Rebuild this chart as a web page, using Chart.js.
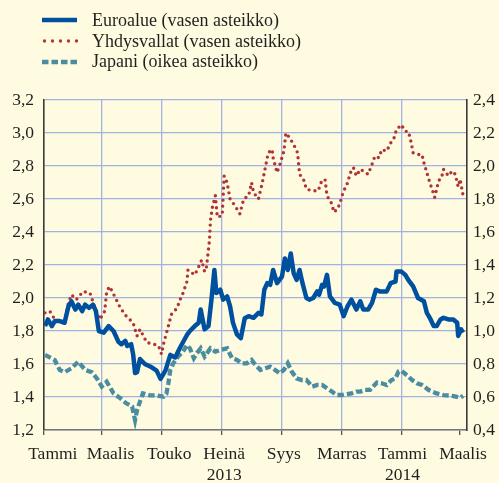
<!DOCTYPE html>
<html lang="fi">
<head>
<meta charset="utf-8">
<title>Valtion 10 vuoden lainojen korot</title>
<script src="https://cdn.jsdelivr.net/npm/chart.js@4.4.1/dist/chart.umd.min.js"></script>
<style>
  html, body { margin: 0; padding: 0; background: #fefbe0; }
  #wrap { position: relative; width: 499px; height: 483px; }
  #legend {
    position: absolute; left: 42px; top: 10px;
    font: 18px "Liberation Serif", "Times New Roman", serif;
    color: #231f20; line-height: 20.7px;
  }
  .row { display: flex; align-items: center; white-space: nowrap; }
  .row svg { width: 36px; height: 8px; margin-right: 14px; }
</style>
</head>
<body>
<div id="wrap">
  <canvas id="chart" width="499" height="483"></canvas>
  <div id="legend"></div>
</div>
<script>
// x values are days counted from 1 Jan 2013
const monthStarts = [0, 59, 120, 181, 243, 304, 365, 424];
const labelDays = [9, 68, 128, 184, 245, 304, 366, 428];
const monthLabels = ["Tammi", "Maalis", "Touko", ["Heinä", "2013"], "Syys", "Marras", ["Tammi", "2014"], "Maalis"];
const leftTicks = [1.2, 1.4, 1.6, 1.8, 2.0, 2.2, 2.4, 2.6, 2.8, 3.0, 3.2];
const rightTicks = [0.4, 0.6, 0.8, 1.0, 1.2, 1.4, 1.6, 1.8, 2.0, 2.2, 2.4];

const seriesNames = ["Euroalue (vasen asteikko)", "Yhdysvallat (vasen asteikko)", "Japani (oikea asteikko)"];

const euroDay = [1,4,8,11,16,21,25,28,32,35,39,42,46,50,53,56,61,66,71,76,79,83,85,89,91,93,95,98,103,110,
  115,119,124,129,134,139,146,149,154,158,160,164,168,171,174,176,180,183,187,190,193,197,201,205,209,214,219,222,225,228,
  231,234,238,243,246,249,252,255,258,261,264,268,271,275,279,281,284,286,289,292,297,302,306,310,314,319,323,326,331,335,
  339,343,350,354,359,360,365,369,372,377,382,388,391,394,398,401,405,408,413,418,422,423,426,428];
const euroRate = [1.83,1.87,1.83,1.86,1.86,1.85,1.95,1.98,1.93,1.96,1.92,1.96,1.94,1.96,1.92,1.80,1.79,1.83,1.80,1.735,
  1.72,1.74,1.71,1.72,1.66,1.545,1.55,1.63,1.60,1.58,1.56,1.51,1.56,1.655,1.64,1.70,1.776,1.80,1.83,1.85,
  1.93,1.81,1.83,1.99,2.17,2.03,2.05,1.99,2.01,1.95,1.85,1.78,1.756,1.877,1.89,1.88,1.91,1.90,2.05,2.09,
  2.08,2.17,2.09,2.13,2.24,2.17,2.27,2.15,2.11,2.17,2.09,2.00,1.99,2.00,2.04,2.02,2.08,2.07,2.14,2.01,
  1.97,1.96,1.89,1.95,1.99,1.93,1.98,1.93,1.93,1.97,2.05,2.04,2.04,2.09,2.10,2.16,2.16,2.14,2.11,2.07,
  2.00,1.98,1.91,1.88,1.83,1.83,1.87,1.88,1.87,1.87,1.85,1.77,1.81,1.79];

const usDay = [1,6,11,16,21,25,28,33,40,47,52,57,62,64,67,73,78,84,91,95,98,105,112,117,120,122,127,130,136,139,
  142,146,147,154,158,161,164,166,169,170,172,175,177,182,184,187,190,195,200,204,209,212,214,219,223,226,229,233,234,238,
  241,245,247,251,255,259,261,265,268,274,280,283,287,289,294,296,300,303,306,309,313,316,319,323,326,331,335,338,342,345,
  350,354,357,360,365,369,372,374,377,381,386,388,391,394,398,399,403,406,408,413,417,420,423,425,428];
const usRate = [1.91,1.92,1.87,1.86,1.86,1.97,2.02,1.99,2.04,2.03,1.94,1.87,1.92,2.04,2.07,2.00,1.94,1.89,1.85,1.77,
  1.81,1.73,1.72,1.71,1.66,1.72,1.83,1.90,1.94,1.99,2.03,2.10,2.17,2.14,2.19,2.23,2.16,2.19,2.35,2.47,
  2.55,2.62,2.49,2.50,2.74,2.70,2.60,2.56,2.51,2.60,2.62,2.70,2.64,2.60,2.70,2.79,2.88,2.90,2.85,2.76,
  2.81,2.89,3.00,2.97,2.93,2.88,2.75,2.72,2.66,2.65,2.65,2.70,2.72,2.62,2.57,2.52,2.54,2.59,2.65,2.68,
  2.76,2.79,2.74,2.78,2.77,2.75,2.81,2.86,2.85,2.90,2.89,2.94,2.96,3.02,3.05,3.01,3.01,2.97,2.88,2.87,
  2.87,2.82,2.76,2.70,2.63,2.61,2.71,2.73,2.78,2.74,2.77,2.75,2.675,2.72,2.62];

const jpDay = [1,11,16,21,28,35,42,49,54,59,64,71,78,84,90,93,95,98,101,108,115,122,125,127,129,132,137,142,146,149,
  153,156,160,164,170,175,180,187,192,197,202,207,212,216,221,226,231,236,241,245,249,253,258,263,268,274,279,284,289,294,
  299,304,309,314,319,323,328,333,336,340,345,350,355,359,362,365,371,376,381,386,393,401,408,417,425,428];
const jpRate = [0.855,0.824,0.764,0.75,0.774,0.814,0.764,0.75,0.713,0.663,0.693,0.622,0.592,0.562,0.542,0.46,0.52,0.572,0.622,0.61,
  0.61,0.602,0.62,0.683,0.764,0.804,0.845,0.875,0.915,0.895,0.835,0.865,0.895,0.845,0.895,0.875,0.885,0.895,0.835,0.825,
  0.804,0.804,0.825,0.794,0.764,0.774,0.784,0.764,0.743,0.764,0.804,0.754,0.713,0.703,0.703,0.663,0.673,0.673,0.653,0.633,
  0.612,0.612,0.617,0.622,0.633,0.633,0.643,0.643,0.663,0.688,0.683,0.673,0.703,0.713,0.754,0.76,0.73,0.703,0.683,0.673,
  0.642,0.622,0.612,0.607,0.597,0.607];

const BLUE = "#0050a0";
const RED = "#b03434";
const TEAL = "#4b8da0";
const GRID = "#a2b2e2";
const AXIS = "#3a3a3a";
const TEXT = "#231f20";
const tickFont = { family: "'Liberation Serif', 'Times New Roman', serif", size: 17.5, lineHeight: 1.2 };

const toPoints = (days, vals) => days.map((d, i) => ({ x: d, y: vals[i] }));
const fmt = (v) => Number(v).toFixed(1).replace(".", ",");

// legend rows (html, left-aligned column like the original)
const swatches = [
  `<svg viewBox="0 0 36 8"><line x1="0" y1="4" x2="35" y2="4" stroke="${BLUE}" stroke-width="4.5"/></svg>`,
  `<svg viewBox="0 0 36 8"><line x1="2.5" y1="4" x2="35" y2="4" stroke="${RED}" stroke-width="3.3" stroke-linecap="round" stroke-dasharray="0 8"/></svg>`,
  `<svg viewBox="0 0 36 8"><line x1="0" y1="4" x2="35" y2="4" stroke="${TEAL}" stroke-width="4.3" stroke-dasharray="6.5 3"/></svg>`
];
document.getElementById("legend").innerHTML = seriesNames
  .map((name, i) => `<div class="row">${swatches[i]}<span>${name}</span></div>`)
  .join("");

new Chart(document.getElementById("chart"), {
  type: "line",
  data: {
    datasets: [
      {
        label: seriesNames[0],
        data: toPoints(euroDay, euroRate),
        borderColor: BLUE,
        borderWidth: 4.5,
        borderJoinStyle: "round",
        pointRadius: 0,
        yAxisID: "y"
      },
      {
        label: seriesNames[1],
        data: toPoints(usDay, usRate),
        borderColor: RED,
        borderWidth: 3.4,
        borderDash: [0, 6],
        borderCapStyle: "round",
        pointRadius: 0,
        yAxisID: "y"
      },
      {
        label: seriesNames[2],
        data: toPoints(jpDay, jpRate),
        borderColor: TEAL,
        borderWidth: 4.3,
        borderDash: [6.5, 3],
        pointRadius: 0,
        yAxisID: "y1"
      }
    ]
  },
  options: {
    responsive: false,
    animation: false,
    layout: { padding: { top: 100, left: 0, right: 0, bottom: 0 } },
    plugins: {
      legend: { display: false },
      tooltip: { enabled: false }
    },
    scales: {
      x: {
        type: "linear",
        position: "bottom",
        min: 0,
        max: 432,
        weight: 0,
        afterBuildTicks(scale) { scale.ticks = monthStarts.map((v) => ({ value: v })); },
        afterFit(scale) { scale.height = 5; },
        ticks: { display: false },
        grid: {
          color: (c) => (c.tick && (c.tick.value === 0 || c.tick.value === 424)) ? "rgba(0,0,0,0)" : GRID,
          lineWidth: 1.3,
          tickLength: 5,
          tickColor: "#555",
          tickWidth: 1.3
        },
        border: { display: true, color: "#777", width: 1.5 }
      },
      xLab: {
        type: "linear",
        position: "bottom",
        min: 0,
        max: 432,
        weight: 1,
        afterBuildTicks(scale) { scale.ticks = labelDays.map((v) => ({ value: v })); },
        afterFit(scale) { scale.height = 48; },
        grid: { display: false, drawTicks: false },
        border: { display: false },
        ticks: {
          autoSkip: false,
          maxRotation: 0,
          minRotation: 0,
          padding: 9,
          color: TEXT,
          font: tickFont,
          callback: (v, i) => monthLabels[i]
        }
      },
      y: {
        position: "left",
        min: 1.2,
        max: 3.2,
        afterBuildTicks(scale) { scale.ticks = leftTicks.map((v) => ({ value: v })); },
        afterFit(scale) { scale.width = 44; },
        ticks: { padding: 10, color: TEXT, font: tickFont, callback: fmt },
        grid: { color: GRID, lineWidth: 1.3, drawTicks: false },
        border: { color: AXIS, width: 1.6 }
      },
      y1: {
        position: "right",
        min: 0.4,
        max: 2.4,
        afterBuildTicks(scale) { scale.ticks = rightTicks.map((v) => ({ value: v })); },
        afterFit(scale) { scale.width = 32; },
        ticks: { padding: 6, color: TEXT, font: tickFont, callback: fmt },
        grid: { drawOnChartArea: false, drawTicks: false },
        border: { color: AXIS, width: 1.6 }
      }
    }
  }
});
</script>
</body>
</html>
